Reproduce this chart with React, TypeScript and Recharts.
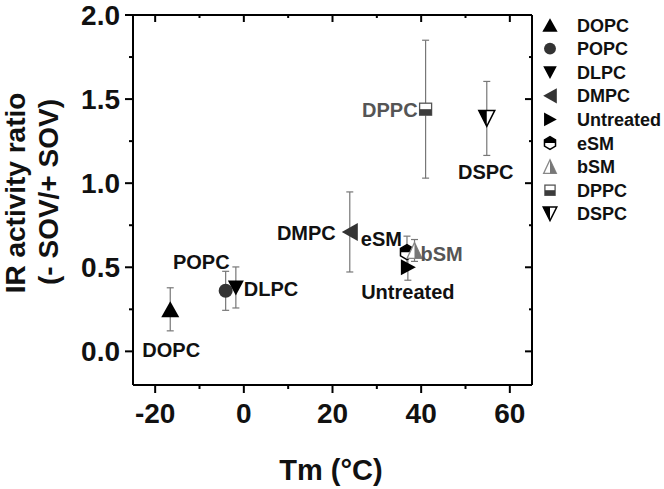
import React from "react";
import { ScatterChart, Scatter, XAxis, YAxis, ErrorBar, ReferenceLine } from "recharts";

// lipid names, Tm (°C), IR activity ratio, error
const names = ["DOPC", "POPC", "DLPC", "DMPC", "Untreated", "eSM", "bSM", "DPPC", "DSPC"];
const tm = [-16.6, -4.1, -1.8, 23.9, 37, 36.8, 38.5, 41, 54.8];
const ratio = [0.25, 0.36, 0.38, 0.71, 0.5, 0.59, 0.6, 1.44, 1.385];
const errs = [0.128, 0.116, 0.122, 0.238, 0.077, 0.095, 0.065, 0.41, 0.22];

const xTicks = [-20, -10, 0, 10, 20, 30, 40, 50, 60];
const yTicks = [0, 0.25, 0.5, 0.75, 1, 1.25, 1.5, 1.75, 2];
const xDomain = [-25, 65];
const yDomain = [-0.2, 2];

const FONT = "Liberation Sans, Arial, sans-serif";
// plot box edges (from the margins below)
const TOP = 15;
const RIGHT = 532;

// label placement per series (relative to point)
const labelPos: Record<string, { dx: number; dy: number; anchor: string; color: string }> = {
  DOPC: { dx: 1, dy: 48, anchor: "middle", color: "#111" },
  POPC: { dx: 4, dy: -22, anchor: "end", color: "#111" },
  DLPC: { dx: 8, dy: 9, anchor: "start", color: "#111" },
  DMPC: { dx: -14, dy: 8, anchor: "end", color: "#111" },
  Untreated: { dx: 0, dy: 32, anchor: "middle", color: "#111" },
  eSM: { dx: -5, dy: -6, anchor: "end", color: "#111" },
  bSM: { dx: 6, dy: 11, anchor: "start", color: "#555" },
  DPPC: { dx: -8, dy: 8, anchor: "end", color: "#555" },
  DSPC: { dx: -1, dy: 61, anchor: "middle", color: "#111" },
};

function Marker({ name, cx, cy, s = 1 }: { name: string; cx: number; cy: number; s?: number }) {
  const p = (pts: number[][]) => pts.map(([a, b]) => `${cx + a * s},${cy + b * s}`).join(" ");
  switch (name) {
    case "DOPC":
      return <polygon points={p([[0, -8], [9, 8], [-9, 8]])} fill="#000" />;
    case "POPC":
      return <circle cx={cx} cy={cy} r={7 * s} fill="#333" />;
    case "DLPC":
      return <polygon points={p([[-8, -7], [8, -7], [0, 8]])} fill="#000" />;
    case "DMPC":
      return <polygon points={p([[-8, 0], [8, -9], [8, 9]])} fill="#333" />;
    case "Untreated":
      return <polygon points={p([[-7, -8], [8, 0], [-7, 8]])} fill="#000" />;
    case "eSM":
      return (
        <g>
          <polygon points={p([[0, -7.5], [6.5, -3.75], [6.5, 3.75], [0, 7.5], [-6.5, 3.75], [-6.5, -3.75]])} fill="#fff" stroke="#000" strokeWidth={1.5} />
          <polygon points={p([[-6.5, 0], [-6.5, -3.75], [0, -7.5], [6.5, -3.75], [6.5, 0]])} fill="#000" />
        </g>
      );
    case "bSM":
      return (
        <g>
          <polygon points={p([[0, -8], [7.5, 8], [-7.5, 8]])} fill="#fff" stroke="#888" strokeWidth={1.3} />
          <polygon points={p([[0, -8], [7.5, 8], [0, 8]])} fill="#777" />
        </g>
      );
    case "DPPC":
      return (
        <g>
          <rect x={cx - 6 * s} y={cy - 6 * s} width={12 * s} height={12 * s} fill="#fff" stroke="#555" strokeWidth={1.3} />
          <rect x={cx - 6 * s} y={cy} width={12 * s} height={6 * s} fill="#3c3c3c" />
        </g>
      );
    case "DSPC":
      return (
        <g>
          <polygon points={p([[-8, -8], [8, -8], [0, 8]])} fill="#fff" stroke="#000" strokeWidth={1.5} />
          <polygon points={p([[-8, -8], [0, -8], [0, 8]])} fill="#000" />
        </g>
      );
    default:
      return null;
  }
}

const series = names.map((n, i) => ({ name: n, data: [{ x: tm[i], y: ratio[i], err: errs[i] }] }));

const isMajorX = (v: number) => v % 20 === 0;
const isMajorY = (v: number) => Math.abs(v * 2 - Math.round(v * 2)) < 1e-9;

// bottom ticks point out; the mirrored top ones point in
function BottomTick(props: any) {
  const { x, y, payload } = props;
  const major = isMajorX(payload.value);
  return (
    <g>
      <line x1={x} y1={y} x2={x} y2={y + (major ? 8 : 4)} stroke="#000" strokeWidth={2} />
      <line x1={x} y1={TOP} x2={x} y2={TOP + (major ? 7 : 3)} stroke="#000" strokeWidth={2} />
      {major && (
        <text x={x} y={y + 38} textAnchor="middle" fontFamily={FONT} fontWeight="bold" fontSize={28} fill="#111">
          {payload.value}
        </text>
      )}
    </g>
  );
}

function LeftTick(props: any) {
  const { x, y, payload } = props;
  const major = isMajorY(payload.value);
  return (
    <g>
      <line x1={x - (major ? 8 : 4)} y1={y} x2={x} y2={y} stroke="#000" strokeWidth={2} />
      <line x1={RIGHT - (major ? 7 : 3)} y1={y} x2={RIGHT} y2={y} stroke="#000" strokeWidth={2} />
      {major && (
        <text x={x - 13} y={y + 10} textAnchor="end" fontFamily={FONT} fontWeight="bold" fontSize={28} fill="#111">
          {payload.value.toFixed(1)}
        </text>
      )}
    </g>
  );
}

const YTitle = () => (
  <g fontFamily={FONT} fontWeight="bold" fontSize={28} fill="#111" textAnchor="middle">
    <text transform="translate(25,193) rotate(-90)">IR activity ratio</text>
    <text transform="translate(58,192) rotate(-90)">(- SOV/+ SOV)</text>
  </g>
);

// axis title plus the symbol key at the right of the plot
const XTitle = () => (
  <g>
    <text x={331} y={480} textAnchor="middle" fontFamily={FONT} fontWeight="bold" fontSize={29} fill="#111">
      Tm (°C)
    </text>
    {names.map((n, i) => {
      const cy = 25 + i * 23.6;
      return (
        <g key={n}>
          <Marker name={n} cx={550} cy={cy} s={0.85} />
          <text x={577} y={cy + 6.5} fontFamily={FONT} fontWeight="bold" fontSize={18} fill="#111">
            {n}
          </text>
        </g>
      );
    })}
  </g>
);

export default function App() {
  return (
    <div style={{ position: "absolute", left: 0, top: 0, width: 664, height: 489, background: "#fff" }}>
      <ScatterChart width={664} height={489} margin={{ top: TOP, right: 664 - RIGHT, bottom: 0, left: 0 }}>
        <XAxis
          type="number"
          dataKey="x"
          domain={xDomain}
          ticks={xTicks}
          interval={0}
          height={104}
          tickSize={0}
          tickMargin={0}
          tickLine={false}
          tick={<BottomTick />}
          axisLine={{ stroke: "#000", strokeWidth: 2 }}
          label={XTitle}
        />
        <YAxis
          type="number"
          dataKey="y"
          domain={yDomain}
          ticks={yTicks}
          interval={0}
          width={133}
          tickSize={0}
          tickMargin={0}
          tickLine={false}
          tick={<LeftTick />}
          axisLine={{ stroke: "#000", strokeWidth: 2 }}
          label={YTitle}
        />
        {/* closing frame: top and right edges */}
        <ReferenceLine y={yDomain[1]} stroke="#000" strokeWidth={2} ifOverflow="visible" />
        <ReferenceLine x={xDomain[1]} stroke="#000" strokeWidth={2} ifOverflow="visible" />
        {series.map((s) => (
          <Scatter
            key={s.name}
            name={s.name}
            data={s.data}
            isAnimationActive={false}
            shape={(p: any) => {
              const lp = labelPos[s.name];
              return (
                <g>
                  <Marker name={s.name} cx={p.cx} cy={p.cy} />
                  <text
                    x={p.cx + lp.dx}
                    y={p.cy + lp.dy}
                    textAnchor={lp.anchor as any}
                    fontFamily={FONT}
                    fontWeight="bold"
                    fontSize={20}
                    fill={lp.color}
                  >
                    {s.name}
                  </text>
                </g>
              );
            }}
          >
            <ErrorBar dataKey="err" direction="y" width={3.5} stroke="#777" strokeWidth={1.2} />
          </Scatter>
        ))}
      </ScatterChart>
    </div>
  );
}
